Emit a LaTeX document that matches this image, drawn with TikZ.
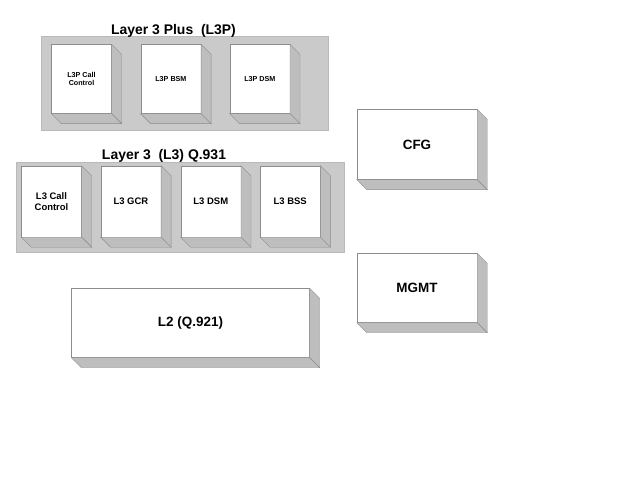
\documentclass[tikz,border=0pt]{standalone}
\usepackage{fontspec}
\setmainfont{Liberation Sans}
\usetikzlibrary{positioning}
\definecolor{panelgray}{RGB}{202,202,202}
\definecolor{sidegray}{RGB}{190,190,190}
\definecolor{edgegray}{RGB}{140,140,140}
\begin{document}
\begin{tikzpicture}[x=1bp,y=-1bp,
  panel/.style={fill=panelgray,draw=edgegray!60,line width=.4pt},
  blk/.style={draw=edgegray,fill=white,line width=.4pt,inner sep=0pt,align=center,
    font=\bfseries\fontsize{9.5}{10.5}\selectfont},
  small/.style={font=\bfseries\fontsize{7.2}{8.5}\selectfont},
  big/.style={font=\bfseries\fontsize{13.5}{15}\selectfont},
  side/.style={fill=sidegray,draw=edgegray,line width=.4pt},
  title/.style={anchor=base,font=\bfseries\fontsize{14}{16}\selectfont}]
\useasboundingbox[fill=white] (0,0) rectangle (626,493);
\draw[panel] (41.5,36) rectangle (328,130.5);
\draw[panel] (16,162) rectangle (344,252);
\node[title] (t1) at (173.5,34.5) {Layer 3 Plus\ \ (L3P)};
\node[title] (t2) at (164,160) {Layer 3\ \ (L3) Q.931};
\node[blk,small,minimum width=60bp,minimum height=69bp] (pcc) at (81.5,79) {L3P Call\\Control};
\node[blk,small,minimum width=60bp,minimum height=69bp] (pbsm) [right=29bp of pcc] {L3P BSM};
\node[blk,small,minimum width=60bp,minimum height=69bp] (pdsm) [right=28.5bp of pbsm] {L3P DSM};
\node[blk,minimum width=60bp,minimum height=71bp] (lcc) at (51.5,201.5) {L3 Call\\Control};
\node[blk,minimum width=60bp,minimum height=71bp] (lgcr) [right=19bp of lcc] {L3 GCR};
\node[blk,minimum width=60bp,minimum height=71bp] (ldsm) [right=19.5bp of lgcr] {L3 DSM};
\node[blk,minimum width=60bp,minimum height=71bp] (lbss) [right=19bp of ldsm] {L3 BSS};
\node[blk,big,minimum width=120bp,minimum height=70bp] (cfg) at (417,144.5) {CFG};
\node[blk,big,minimum width=120bp,minimum height=69bp] (mgmt) at (417,288) {MGMT};
\node[blk,big,minimum width=238bp,minimum height=69bp] (l2) at (190.5,323) {L2 (Q.921)};
\foreach \n in {pcc,pbsm,pdsm,lcc,lgcr,ldsm,lbss,cfg,mgmt,l2}{
  \draw[side] (\n.north east) -- ++(10,10) -- ([shift={(10,10)}]\n.south east) -- (\n.south east) -- cycle;
  \draw[side] (\n.south west) -- ++(10,10) -- ([shift={(10,10)}]\n.south east) -- (\n.south east) -- cycle;
}
\end{tikzpicture}
\end{document}
